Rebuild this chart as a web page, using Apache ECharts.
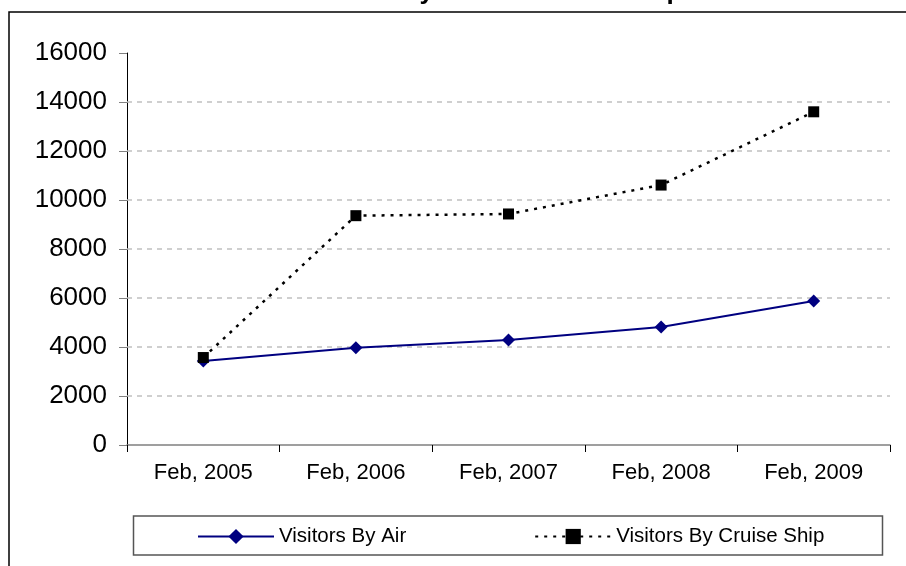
<!DOCTYPE html>
<html>
<head>
<meta charset="utf-8">
<script src="https://cdn.jsdelivr.net/npm/echarts@6/dist/echarts.min.js"></script>
<style>
html,body{margin:0;padding:0;background:#fff;}
#chart{width:906px;height:566px;}
</style>
</head>
<body>
<div id="chart"></div>
<script>
var titleText = 'Visitors by Air and Cruise Ship';
var categories = ['Feb, 2005', 'Feb, 2006', 'Feb, 2007', 'Feb, 2008', 'Feb, 2009'];
var airName = 'Visitors By Air';
var cruiseName = 'Visitors By Cruise Ship';
var airValues = [3430, 3970, 4290, 4820, 5880];
var cruiseValues = [3570, 9360, 9430, 10610, 13600];
var gridValues = [2000, 4000, 6000, 8000, 10000, 12000, 14000];

var FONT = '"Liberation Sans", Arial, sans-serif';
var chart = echarts.init(document.getElementById('chart'));
chart.setOption({
  animation: false,
  backgroundColor: '#fff',
  graphic: [
    { type: 'rect', shape: { x: 9, y: 12, width: 1000, height: 600 },
      style: { fill: 'none', stroke: '#000', lineWidth: 1.5 }, z: 0 },
    { type: 'rect', shape: { x: 133.5, y: 516, width: 749, height: 39 },
      style: { fill: 'none', stroke: '#555', lineWidth: 1.5 }, z: 0 },
    { type: 'text', x: 492, y: 4.5,
      style: { text: titleText, font: 'bold 26px ' + FONT, fill: '#000',
               textAlign: 'center', textVerticalAlign: 'bottom' }, z: 10 }
  ],
  grid: { left: 127, right: 16, top: 53, bottom: 121 },
  legend: {
    left: 192, top: 521, itemWidth: 76, itemHeight: 19, itemGap: 128,
    textStyle: { fontSize: 20.5, fontFamily: FONT, color: '#000' },
    data: [airName, cruiseName]
  },
  xAxis: {
    type: 'category', data: categories, boundaryGap: true,
    axisLine: { lineStyle: { color: '#808080', width: 1.5 } },
    axisTick: { show: true, length: 7, lineStyle: { color: '#000' } },
    axisLabel: { fontSize: 22, fontFamily: FONT, color: '#000', margin: 17 },
    splitLine: { show: false }
  },
  yAxis: {
    type: 'value', min: 0, max: 16000, interval: 2000,
    axisLine: { show: true, lineStyle: { color: '#000', width: 1 } },
    axisTick: { show: true, length: 8, lineStyle: { color: '#808080' } },
    axisLabel: { fontSize: 26, fontFamily: FONT, color: '#000', margin: 20,
                 formatter: function (v) { return String(v); } },
    splitLine: { show: false }
  },
  series: [
    {
      name: airName, type: 'line', data: airValues,
      symbol: 'diamond', symbolSize: 13, z: 3,
      lineStyle: { color: '#000080', width: 2 },
      itemStyle: { color: '#000080' },
      markLine: {
        silent: true, symbol: 'none', label: { show: false },
        lineStyle: { color: '#c0c0c0', type: [5, 5], width: 1.5 },
        data: gridValues.map(function (v) { return { yAxis: v }; }),
        z: 1
      }
    },
    {
      name: cruiseName, type: 'line', data: cruiseValues,
      symbol: 'rect', symbolSize: 11, z: 4,
      lineStyle: { color: '#000', width: 2.5, type: [3, 6] },
      itemStyle: { color: '#000' }
    }
  ]
});
</script>
</body>
</html>
